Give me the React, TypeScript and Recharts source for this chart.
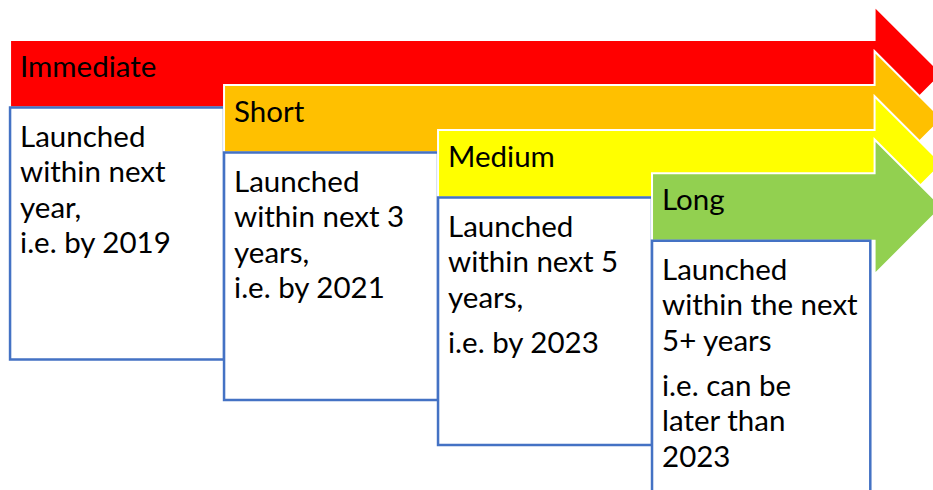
import { ComposedChart, XAxis, YAxis, ReferenceArea } from 'recharts'

// stage names, in order of the arrows
const STAGES = ['Immediate', 'Short', 'Medium', 'Long']
// column where each stage's arrow and box begin / end (one column per stage)
const STAGE_START = [0, 1, 2, 3]
const BOX_END = [1, 2, 3, 4.02]
const ARROW_END = 4.04
// row level of each arrow's shaft top, and how deep the shaft is
const SHAFT_TOP = [0, 1, 2, 2.96]
const SHAFT_DEPTH = 1.5
// where each description box ends
const BOX_BOTTOM = [7.1, 8.0, 9.0, 10.3]
// description paragraphs, each a list of lines
const BOX_TEXT = [
  [['Launched', 'within next', 'year,', 'i.e. by 2019']],
  [['Launched', 'within next 3', 'years,', 'i.e. by 2021']],
  [['Launched', 'within next 5', 'years,'], ['i.e. by 2023']],
  [['Launched', 'within the next', '5+ years'], ['i.e. can be', 'later than', '2023']],
]

const COLORS = ['#FF0000', '#FFC000', '#FFFF00', '#92D050']
const BORDER = '#4472C4'
const FONT = 'Lato, "Noto Sans", sans-serif'
const FONT_SIZE = 29.5
const LINE_H = 35.5
const PARA_GAP = 9.5

const Arrow = (props: any) => {
  const { x, y, width, height, fill } = props
  const ext = height * 0.5
  const pts = [
    [x, y],
    [x + width, y],
    [x + width, y - ext],
    [x + width + height / 2 + ext, y + height / 2],
    [x + width, y + height + ext],
    [x + width, y + height],
    [x, y + height],
  ]
  return <polygon points={pts.map((p) => p.join(',')).join(' ')} fill={fill} stroke="#fff" strokeWidth={2} />
}

const StageLabel = ({ viewBox, text }: any) => {
  if (!viewBox) return null
  return (
    <text x={viewBox.x + 10} y={viewBox.y + 37} fontFamily={FONT} fontSize={FONT_SIZE} fill="#000">
      {text}
    </text>
  )
}

const BoxLabel = ({ viewBox, paras }: any) => {
  if (!viewBox) return null
  const out: any[] = []
  let yy = viewBox.y + 39
  paras.forEach((lines: string[], pi: number) => {
    if (pi > 0) yy += PARA_GAP
    lines.forEach((line) => {
      out.push(
        <text key={out.length} x={viewBox.x + 10} y={yy} fontFamily={FONT} fontSize={FONT_SIZE} fill="#000">
          {line}
        </text>
      )
      yy += LINE_H
    })
  })
  return <g>{out}</g>
}

export default function App() {
  const data = STAGES.map((s, i) => ({ stage: s, x: STAGE_START[i] }))
  return (
    <div style={{ position: 'absolute', left: 0, top: 0, width: 933, height: 490, background: '#fff' }}>
      <ComposedChart width={933} height={490} data={data} margin={{ top: 0, right: 0, bottom: 0, left: 0 }}>
        <XAxis type="number" dataKey="x" domain={[-0.047, 4.313]} hide allowDataOverflow />
        <YAxis type="number" domain={[-0.889, 10]} reversed hide allowDataOverflow width={0} />
        {STAGES.flatMap((stage, i) => [
          <ReferenceArea
            key={`arrow-${i}`}
            x1={STAGE_START[i]}
            x2={ARROW_END}
            y1={SHAFT_TOP[i]}
            y2={SHAFT_TOP[i] + SHAFT_DEPTH}
            fill={COLORS[i]}
            fillOpacity={1}
            ifOverflow="visible"
            shape={(p: any) => <Arrow {...p} fill={COLORS[i]} />}
            label={(p: any) => <StageLabel viewBox={p.viewBox} text={stage} />}
          />,
          <ReferenceArea
            key={`box-${i}`}
            x1={STAGE_START[i]}
            x2={BOX_END[i]}
            y1={SHAFT_TOP[i] + SHAFT_DEPTH}
            y2={BOX_BOTTOM[i]}
            fill="#fff"
            fillOpacity={1}
            stroke={BORDER}
            strokeWidth={2.5}
            strokeOpacity={1}
            ifOverflow="visible"
            label={(p: any) => <BoxLabel viewBox={p.viewBox} paras={BOX_TEXT[i]} />}
          />,
        ])}
      </ComposedChart>
    </div>
  )
}
